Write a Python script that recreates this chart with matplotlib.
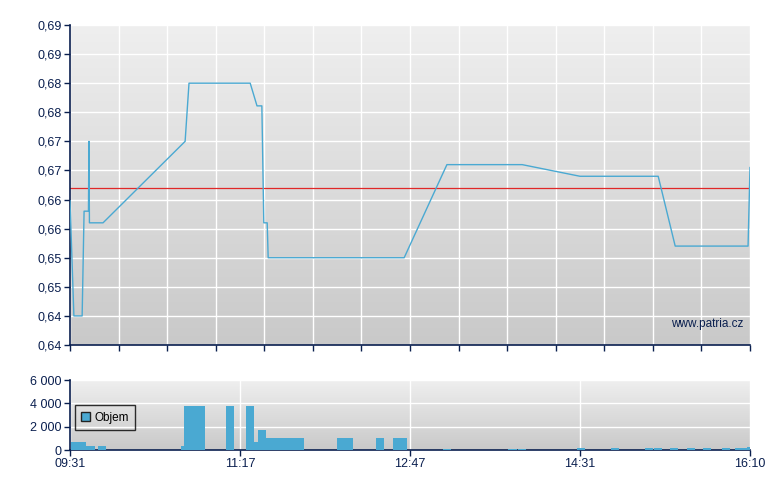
import matplotlib.pyplot as plt
import numpy as np
from matplotlib.patches import Patch

# session position (0 = 09:31, 14 = 16:10, one unit per vertical grid line)
price_pos = [0, 0.08, 0.25, 0.29, 0.38, 0.39, 0.40, 0.68, 2.37, 2.45, 3.71, 3.85,
             3.95, 3.99, 4.06, 4.08, 6.88, 7.76, 9.31, 10.50, 12.11, 12.46, 13.96, 14.0]
price = [0.6623, 0.6425, 0.6425, 0.6605, 0.6605, 0.6725, 0.6585, 0.6585, 0.6725, 0.6825,
         0.6825, 0.6786, 0.6786, 0.6585, 0.6585, 0.6525, 0.6525, 0.6685, 0.6685, 0.6665,
         0.6665, 0.6545, 0.6545, 0.6680]
prev_close = 0.6645

vol_start = [0.02, 0.33, 0.58, 2.28, 2.35, 3.21, 3.62, 3.79, 3.88, 4.04, 5.50, 6.30, 6.65,
             7.68, 9.02, 9.22, 10.44, 11.14, 11.84, 12.02, 12.35, 12.70, 13.03, 13.42, 13.69, 13.94]
vol_end = [0.33, 0.51, 0.74, 2.35, 2.78, 3.38, 3.79, 3.88, 4.04, 4.82, 5.83, 6.46, 6.94,
           7.84, 9.20, 9.39, 10.60, 11.30, 12.00, 12.19, 12.52, 12.87, 13.20, 13.59, 13.94, 14.0]
volume = [700, 350, 350, 350, 3800, 3800, 3800, 700, 1750, 1000, 1000, 1000, 1000,
          100, 100, 100, 200, 200, 200, 200, 200, 200, 200, 200, 200, 300]

price_ticks = [0.6375 + 0.005 * i for i in range(12)]
price_labels = ["0,64", "0,64", "0,65", "0,65", "0,66", "0,66",
                "0,67", "0,67", "0,68", "0,68", "0,69", "0,69"]
time_ticks = [0, 3.5, 7, 10.5, 14]
time_labels = ["09:31", "11:17", "12:47", "14:31", "16:10"]
vol_ticks = [0, 2000, 4000, 6000]
vol_labels = ["0", "2 000", "4 000", "6 000"]

navy = "#0a1f4f"
blue = "#4aa9d2"

plt.rcParams['font.family'] = ['Liberation Sans', 'DejaVu Sans']

fig = plt.figure(figsize=(7.8, 4.9), dpi=100)
ax_p = fig.add_axes([70 / 780, 145 / 490, 680 / 780, 320 / 490])
ax_v = fig.add_axes([70 / 780, 40 / 490, 680 / 780, 70 / 490])


def style(ax, xlim, ylim):
    ax.set_xlim(*xlim)
    ax.set_ylim(*ylim)
    grad = np.linspace(0, 1, 256).reshape(-1, 1)
    ax.imshow(grad, extent=[xlim[0], xlim[1], ylim[0], ylim[1]], aspect='auto',
              cmap=plt.matplotlib.colors.LinearSegmentedColormap.from_list(
                  "bg", ["#efefef", "#c9c9c9"]),
              origin='upper', zorder=0)
    for s in ['top', 'right']:
        ax.spines[s].set_visible(False)
    for s in ['left', 'bottom']:
        ax.spines[s].set_color(navy)
        ax.spines[s].set_linewidth(1.2)
    ax.tick_params(colors=navy, labelcolor=navy, labelsize=9, length=4.5, width=1, pad=1.5)
    ax.set_axisbelow(True)


# price panel
style(ax_p, (0, 14), (0.6375, 0.6925))
ax_p.set_yticks(price_ticks)
ax_p.set_yticklabels(price_labels)
ax_p.set_xticks(range(15))
ax_p.set_xticklabels([])
ax_p.grid(True, color='white', linewidth=1, zorder=1)
ax_p.axhline(prev_close, color='#e02828', linewidth=0.9, zorder=2)
ax_p.plot(price_pos, price, color=blue, linewidth=1, zorder=3)
ax_p.text(0.99, 0.065, "www.patria.cz", transform=ax_p.transAxes, ha='right',
          va='center', fontsize=8.5, color=navy, zorder=4)

# volume panel
style(ax_v, (0, 14), (0, 6000))
widths = [e - s for s, e in zip(vol_start, vol_end)]
ax_v.bar(vol_start, volume, width=widths, align='edge', color=blue, zorder=3)
ax_v.set_yticks(vol_ticks)
ax_v.set_yticklabels(vol_labels)
ax_v.set_xticks(time_ticks)
ax_v.set_xticklabels(time_labels)
ax_v.grid(True, color='white', linewidth=1, zorder=1)
leg = ax_v.legend(handles=[Patch(facecolor=blue, edgecolor='#222222', label='Objem')],
                  loc='upper left', bbox_to_anchor=(0.007, 0.64), fontsize=8.5,
                  frameon=True, fancybox=False, edgecolor='black',
                  handlelength=0.75, handleheight=0.75, handletextpad=0.35,
                  borderpad=0.55, borderaxespad=0)
leg.get_frame().set_facecolor('none')
leg.get_frame().set_linewidth(1)

fig.savefig("out.png", dpi=100)
